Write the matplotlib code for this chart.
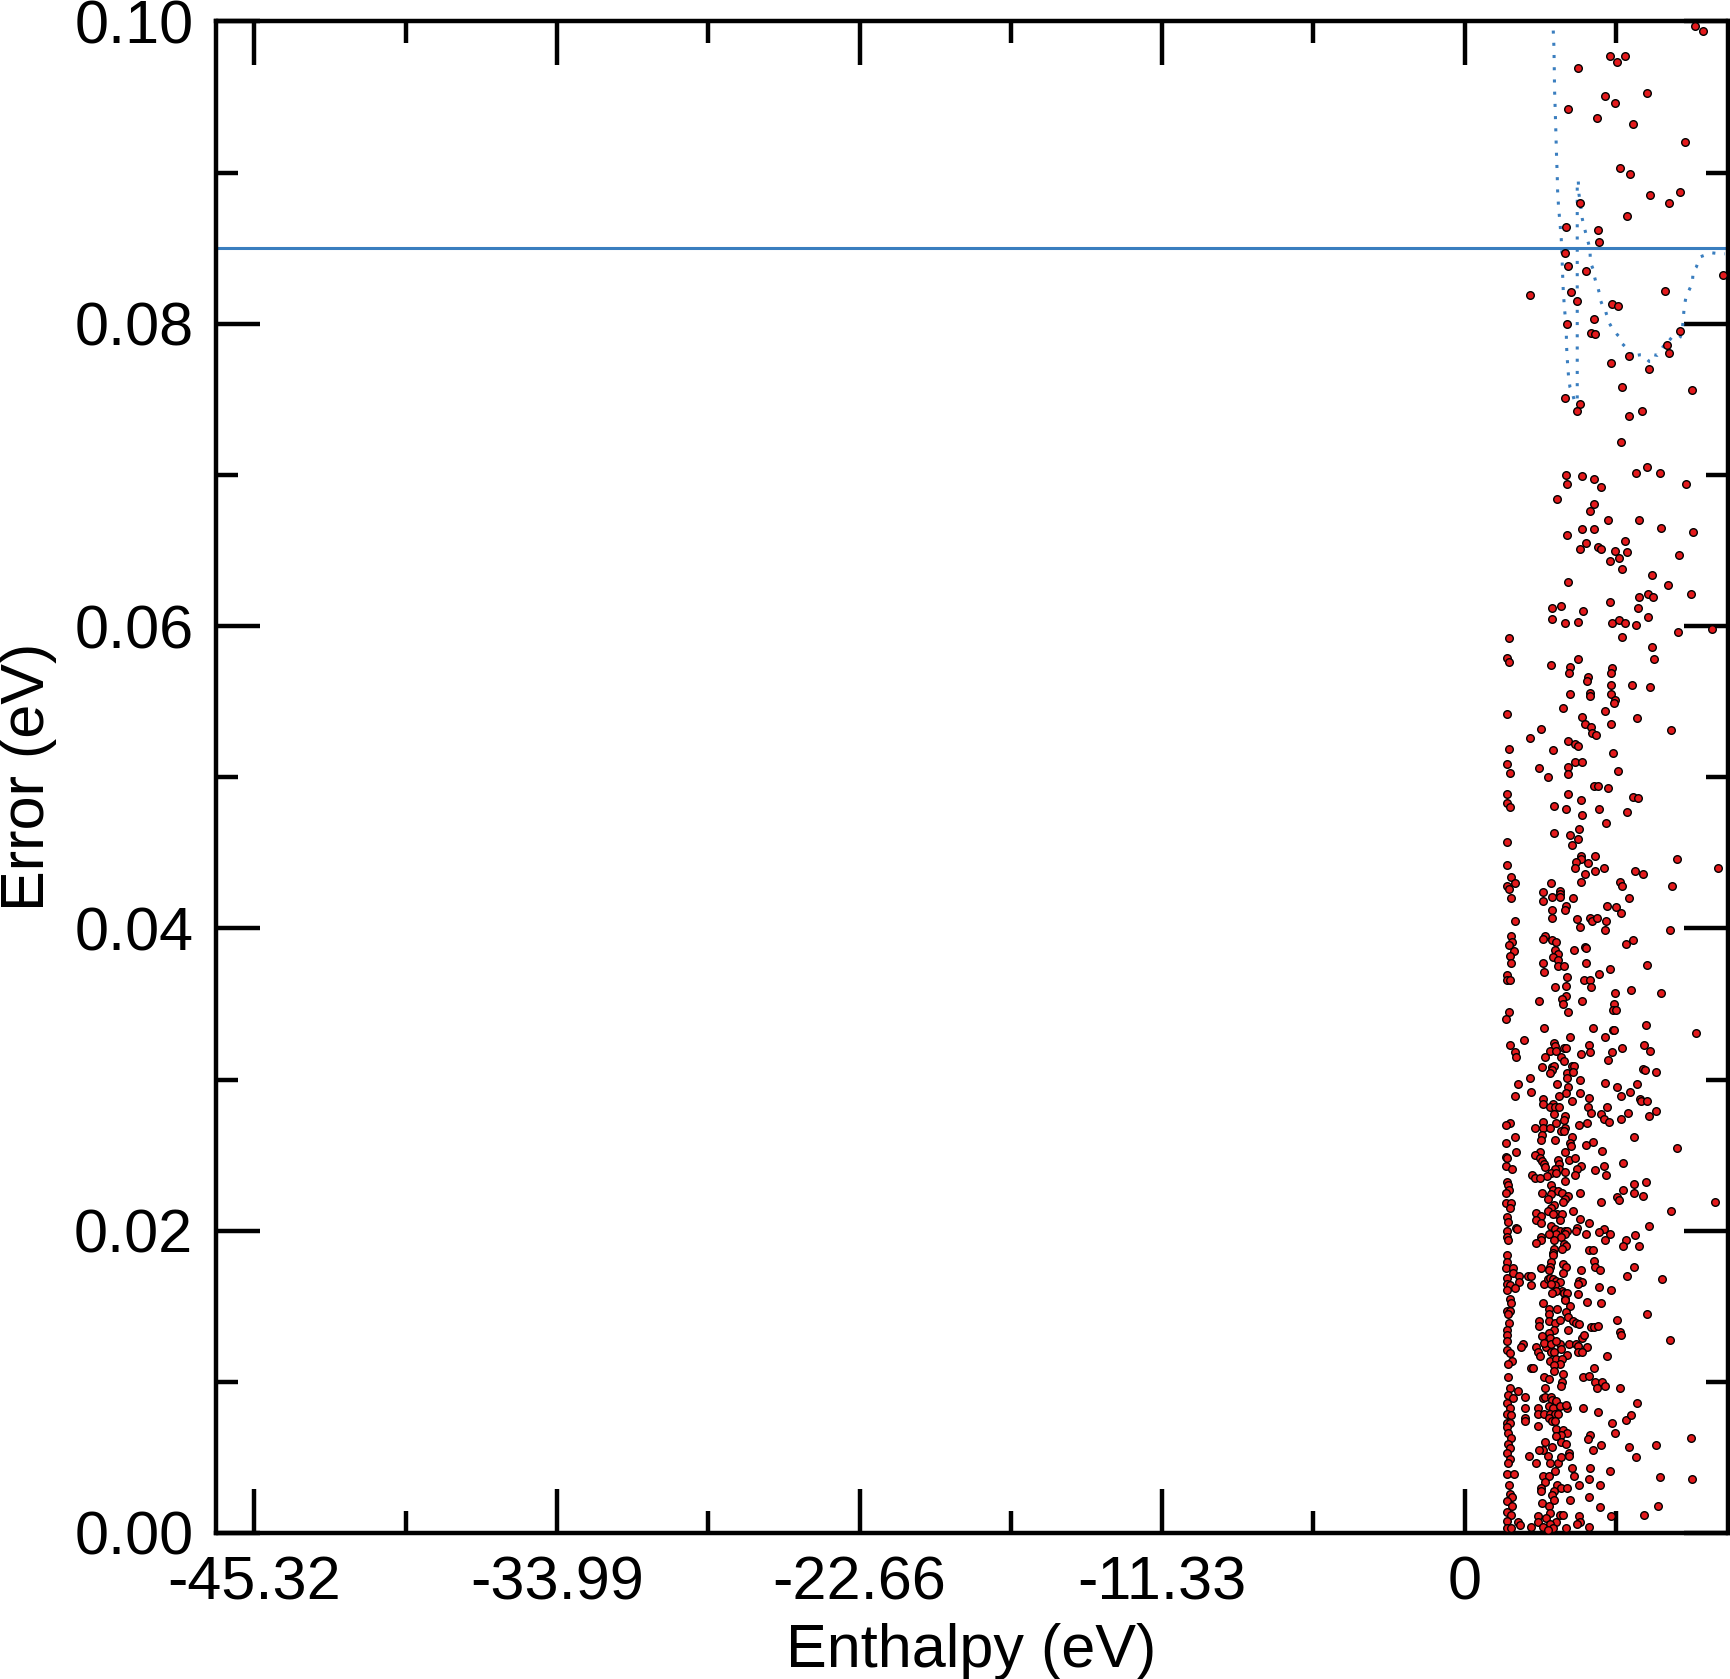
"""Enthalpy vs. fit error scatter, with the error threshold and the running curve.

Values were read off the reference figure (xmgrace style): red points are the
individual structures, the solid blue line is the error threshold and the
dotted blue line is the running error curve.
"""

import matplotlib

matplotlib.use("Agg")
import matplotlib.pyplot as plt
from matplotlib.ticker import FixedFormatter, FixedLocator

plt.rcParams["font.family"] = ["Liberation Sans", "DejaVu Sans"]

RED = "#e41a1c"
BLUE = "#3a7ebf"
FONT_SIZE = 44

THRESHOLD = 0.085

X_TICKS = [-45.32, -33.99, -22.66, -11.33, 0.0]
X_TICK_LABELS = ["-45.32", "-33.99", "-22.66", "-11.33", "0"]
X_MINOR = [-39.655, -28.325, -16.995, -5.665, 5.665]
Y_TICKS = [0.0, 0.02, 0.04, 0.06, 0.08, 0.10]
Y_TICK_LABELS = ["0.00", "0.02", "0.04", "0.06", "0.08", "0.10"]
Y_MINOR = [0.01, 0.03, 0.05, 0.07, 0.09]

# (enthalpy eV, error eV) pairs, split in error bands
points_high = [
    (8.64, 0.0997), (8.94, 0.0994), (5.46, 0.0977), (5.72, 0.0973), (6.02, 0.0977),
    (4.26, 0.0969), (5.27, 0.0951), (5.65, 0.0946), (6.84, 0.0953), (3.89, 0.0942),
    (4.97, 0.0936), (6.32, 0.0932), (8.27, 0.0920), (5.83, 0.0903), (6.21, 0.0899),
    (6.96, 0.0885), (8.08, 0.0887), (7.67, 0.0880), (4.34, 0.0880), (6.09, 0.0871),
    (3.81, 0.0864), (5.01, 0.0862), (5.05, 0.0854), (3.77, 0.0847), (3.88, 0.0838),
    (4.56, 0.0835), (9.69, 0.0832), (2.46, 0.0819), (4.00, 0.0821), (4.22, 0.0815),
    (7.52, 0.0822), (5.53, 0.0813), (5.76, 0.0812), (3.85, 0.0800), (4.86, 0.0803),
    (4.75, 0.0794), (4.90, 0.0793), (8.07, 0.0795), (7.59, 0.0786), (7.67, 0.0781),
    (6.17, 0.0779), (5.50, 0.0774), (6.92, 0.0770), (5.91, 0.0758), (8.53, 0.0756),
    (3.77, 0.0751), (4.34, 0.0747), (4.22, 0.0742), (6.66, 0.0742), (6.17, 0.0739),
    (5.87, 0.0722),
]

points_upper = [
    (6.84, 0.0705), (6.43, 0.0701), (7.33, 0.0701), (3.81, 0.0700), (4.41, 0.0699),
    (3.85, 0.0694), (4.86, 0.0697), (5.12, 0.0692), (8.30, 0.0694), (3.47, 0.0684),
    (4.86, 0.0681), (4.71, 0.0676), (5.38, 0.0670), (6.55, 0.0670), (7.37, 0.0665),
    (8.57, 0.0662), (4.41, 0.0664), (4.86, 0.0664), (3.85, 0.0660), (4.56, 0.0655),
    (4.33, 0.0651), (5.01, 0.0652), (5.12, 0.0651), (6.02, 0.0656), (5.65, 0.0650),
    (6.09, 0.0649), (5.80, 0.0645), (5.46, 0.0643), (8.04, 0.0647), (5.91, 0.0638),
    (7.03, 0.0634), (3.89, 0.0629), (7.63, 0.0627), (8.49, 0.0621), (6.54, 0.0619),
    (6.88, 0.0621), (7.07, 0.0619), (5.46, 0.0616), (3.29, 0.0612), (3.62, 0.0613),
    (4.45, 0.0610), (6.51, 0.0612), (3.29, 0.0605), (3.77, 0.0602), (4.26, 0.0603),
    (5.53, 0.0602), (5.80, 0.0604), (6.02, 0.0602), (6.43, 0.0601), (6.88, 0.0606),
    (5.91, 0.0593), (8.01, 0.0596), (9.28, 0.0598), (1.68, 0.0592), (7.03, 0.0586),
    (1.60, 0.0579), (1.68, 0.0576), (3.25, 0.0574), (4.26, 0.0578), (7.11, 0.0578),
    (3.96, 0.0573), (3.92, 0.0569), (5.53, 0.0572), (5.50, 0.0569), (4.63, 0.0566),
    (4.60, 0.0564), (5.50, 0.0561), (6.28, 0.0561), (6.96, 0.0560), (3.96, 0.0555),
    (4.71, 0.0556), (4.71, 0.0554), (5.50, 0.0555), (5.65, 0.0551), (5.61, 0.0549),
    (3.70, 0.0546), (5.27, 0.0544), (1.60, 0.0542), (4.41, 0.0540), (6.47, 0.0539),
    (4.52, 0.0535), (5.50, 0.0535), (4.75, 0.0533), (2.87, 0.0532), (4.78, 0.0529),
    (4.93, 0.0528), (7.74, 0.0531), (2.46, 0.0526), (3.88, 0.0524), (4.15, 0.0522),
    (4.26, 0.0521), (1.68, 0.0519), (3.32, 0.0518), (5.57, 0.0516), (1.60, 0.0509),
    (1.71, 0.0503), (2.80, 0.0506), (3.88, 0.0507), (4.15, 0.0510), (4.41, 0.0510),
    (3.14, 0.0500), (3.88, 0.0502), (5.76, 0.0504), (1.60, 0.0489), (1.60, 0.0483),
    (1.71, 0.0480), (4.86, 0.0494), (5.01, 0.0494), (5.38, 0.0493), (3.88, 0.0489),
    (4.37, 0.0485), (6.32, 0.0487), (6.51, 0.0486), (3.36, 0.0481), (3.81, 0.0479),
    (5.05, 0.0479), (6.09, 0.0477), (4.41, 0.0475), (5.31, 0.0470), (4.30, 0.0466),
    (3.36, 0.0463), (3.96, 0.0462), (4.26, 0.0459), (4.04, 0.0455), (1.60, 0.0457),
    (1.60, 0.0442), (4.37, 0.0448), (4.90, 0.0448), (4.37, 0.0446), (4.18, 0.0444),
    (4.63, 0.0443), (4.15, 0.0440), (5.23, 0.0440), (7.97, 0.0446), (9.50, 0.0440),
    (1.75, 0.0434), (1.90, 0.0430), (4.52, 0.0436), (4.90, 0.0438), (6.39, 0.0438),
    (6.69, 0.0436), (4.37, 0.0431), (1.60, 0.0428), (1.68, 0.0426), (3.25, 0.0430),
    (5.83, 0.0431), (5.91, 0.0428), (7.78, 0.0428), (1.75, 0.0420), (2.95, 0.0424),
    (3.59, 0.0425), (3.59, 0.0423), (3.59, 0.0421), (3.29, 0.0421), (4.07, 0.0420),
    (6.17, 0.0420),
]

points_middle = [
    (2.95, 0.0418), (3.81, 0.0415), (3.77, 0.0412), (3.29, 0.0412), (3.29, 0.0407),
    (5.35, 0.0415), (5.68, 0.0414), (5.87, 0.0410), (1.90, 0.0405), (4.22, 0.0406),
    (4.71, 0.0407), (4.78, 0.0405), (4.97, 0.0407), (5.31, 0.0405), (4.33, 0.0401),
    (5.27, 0.0399), (7.71, 0.0399), (1.75, 0.0395), (1.79, 0.0391), (1.68, 0.0389),
    (1.86, 0.0385), (1.71, 0.0382), (1.75, 0.0377), (3.02, 0.0395), (2.95, 0.0393),
    (3.29, 0.0392), (3.44, 0.0391), (6.32, 0.0392), (6.06, 0.0390), (3.40, 0.0386),
    (3.51, 0.0383), (3.32, 0.0381), (3.51, 0.0379), (4.11, 0.0386), (4.52, 0.0388),
    (4.56, 0.0387), (2.95, 0.0377), (3.51, 0.0375), (3.74, 0.0375), (4.56, 0.0377),
    (6.84, 0.0376), (2.99, 0.0371), (5.05, 0.0370), (5.46, 0.0373), (1.60, 0.0369),
    (1.60, 0.0366), (1.71, 0.0366), (3.85, 0.0368), (4.48, 0.0366), (4.71, 0.0366),
    (3.81, 0.0362), (3.40, 0.0361), (4.75, 0.0361), (5.65, 0.0357), (6.24, 0.0359),
    (7.37, 0.0357), (3.81, 0.0355), (3.66, 0.0353), (3.70, 0.0350), (4.41, 0.0352),
    (2.80, 0.0352), (5.61, 0.0350), (5.57, 0.0346), (5.68, 0.0346), (3.88, 0.0345),
    (1.68, 0.0345), (1.56, 0.0340), (2.99, 0.0334), (4.82, 0.0334), (5.57, 0.0333),
    (5.61, 0.0333), (6.81, 0.0336), (8.68, 0.0331), (2.24, 0.0326), (3.96, 0.0328),
    (5.27, 0.0328), (1.71, 0.0323), (1.90, 0.0318), (1.94, 0.0315), (3.36, 0.0324),
    (3.40, 0.0322), (3.74, 0.0321), (3.81, 0.0321), (3.21, 0.0319), (3.44, 0.0319),
    (3.02, 0.0315), (3.62, 0.0315), (4.67, 0.0323), (4.71, 0.0318), (4.37, 0.0317),
    (5.53, 0.0318), (5.91, 0.0321), (6.73, 0.0323), (6.96, 0.0319), (5.38, 0.0313),
    (3.74, 0.0312), (4.04, 0.0309), (4.11, 0.0309), (2.91, 0.0308), (3.29, 0.0308),
    (3.36, 0.0309), (3.29, 0.0306), (3.21, 0.0304), (3.85, 0.0304), (3.85, 0.0301),
    (4.07, 0.0305), (6.69, 0.0307), (6.77, 0.0306), (7.18, 0.0305), (2.46, 0.0301),
    (4.33, 0.0300), (2.01, 0.0297), (3.47, 0.0297), (3.88, 0.0295), (5.27, 0.0298),
    (6.47, 0.0297), (5.72, 0.0295), (2.50, 0.0292), (3.81, 0.0291), (4.33, 0.0291),
    (6.21, 0.0292), (1.90, 0.0289), (3.55, 0.0289), (4.67, 0.0288), (5.87, 0.0289),
    (6.58, 0.0287), (6.62, 0.0286), (6.84, 0.0286), (2.95, 0.0287), (2.95, 0.0284),
    (4.04, 0.0286), (3.32, 0.0284), (3.21, 0.0282), (3.40, 0.0282), (3.55, 0.0282),
    (4.63, 0.0282), (5.35, 0.0282), (3.36, 0.0277), (4.75, 0.0278), (5.12, 0.0277),
    (6.13, 0.0278), (7.18, 0.0279), (3.77, 0.0276), (3.74, 0.0273), (5.23, 0.0274),
    (5.42, 0.0272), (5.87, 0.0274), (6.92, 0.0276), (1.71, 0.0271), (1.56, 0.0270),
    (2.95, 0.0272), (3.44, 0.0271), (4.30, 0.0270), (4.60, 0.0271), (2.65, 0.0268),
    (2.95, 0.0268), (3.21, 0.0268), (3.77, 0.0268), (3.62, 0.0266), (3.74, 0.0266),
    (2.91, 0.0263), (1.90, 0.0262), (4.04, 0.0262), (6.36, 0.0262), (3.40, 0.0260),
    (2.87, 0.0260), (4.82, 0.0259), (3.96, 0.0258), (4.56, 0.0257), (1.56, 0.0258),
    (4.00, 0.0256), (7.97, 0.0255), (1.94, 0.0252), (2.84, 0.0252), (3.77, 0.0252),
    (5.16, 0.0253), (2.65, 0.0250), (1.56, 0.0249), (1.60, 0.0248), (2.84, 0.0248),
    (2.91, 0.0246), (3.51, 0.0247), (3.92, 0.0247), (4.15, 0.0248), (1.56, 0.0243),
    (1.79, 0.0241), (2.99, 0.0244), (3.02, 0.0242), (3.55, 0.0244), (3.55, 0.0241),
    (3.40, 0.0241), (4.37, 0.0243), (4.22, 0.0241), (5.23, 0.0243), (5.94, 0.0245),
    (3.25, 0.0238), (3.44, 0.0238), (3.10, 0.0236), (3.77, 0.0239), (4.90, 0.0240),
    (5.31, 0.0237), (4.15, 0.0237), (2.54, 0.0237), (2.65, 0.0235), (2.84, 0.0235),
    (3.77, 0.0233), (1.60, 0.0232), (1.64, 0.0230), (3.25, 0.0230), (3.32, 0.0227),
    (1.68, 0.0227), (1.56, 0.0225), (2.91, 0.0225), (3.51, 0.0226), (3.66, 0.0225),
    (4.33, 0.0225), (6.36, 0.0231), (6.81, 0.0232), (5.94, 0.0227), (6.36, 0.0225),
    (6.69, 0.0223), (3.25, 0.0224), (3.88, 0.0223), (3.77, 0.0221), (3.70, 0.0219),
    (5.72, 0.0222), (5.80, 0.0220), (5.12, 0.0219), (9.39, 0.0219), (1.56, 0.0218),
    (1.75, 0.0218), (1.71, 0.0215), (3.14, 0.0221), (3.36, 0.0217), (3.25, 0.0215),
    (3.14, 0.0213), (3.47, 0.0211), (3.32, 0.0211), (3.66, 0.0211), (4.07, 0.0213),
    (7.74, 0.0213), (2.69, 0.0212), (2.87, 0.0210), (1.60, 0.0209), (1.64, 0.0206),
    (2.69, 0.0207), (2.87, 0.0205), (3.25, 0.0203), (3.59, 0.0207), (4.33, 0.0208),
    (4.67, 0.0205), (6.92, 0.0203), (1.94, 0.0202), (1.98, 0.0201), (1.60, 0.0200),
    (1.60, 0.0196), (1.64, 0.0194), (3.40, 0.0201), (3.59, 0.0200), (3.77, 0.0200),
    (3.85, 0.0200), (3.77, 0.0198), (3.44, 0.0198), (3.17, 0.0198), (3.62, 0.0196),
    (4.22, 0.0202), (4.18, 0.0200), (5.23, 0.0201), (5.05, 0.0199), (5.46, 0.0198),
    (4.56, 0.0198), (6.39, 0.0197), (6.06, 0.0194), (5.27, 0.0194), (5.94, 0.0190),
    (6.54, 0.0190), (2.87, 0.0196), (2.87, 0.0194), (2.69, 0.0192), (3.36, 0.0194),
    (3.74, 0.0191), (3.81, 0.0190), (3.66, 0.0188), (3.36, 0.0188), (3.32, 0.0185),
    (3.32, 0.0184), (4.67, 0.0187), (4.82, 0.0187), (1.60, 0.0184), (1.60, 0.0179),
    (1.56, 0.0175), (1.82, 0.0175), (1.82, 0.0172), (2.05, 0.0170), (2.05, 0.0166),
    (1.60, 0.0169), (1.60, 0.0165), (1.71, 0.0164), (1.60, 0.0161), (1.90, 0.0162),
    (3.25, 0.0179), (3.21, 0.0176), (3.70, 0.0178), (3.81, 0.0176), (3.70, 0.0172),
    (2.87, 0.0175), (3.17, 0.0174), (4.86, 0.0180), (4.90, 0.0176), (5.08, 0.0174),
    (4.37, 0.0174), (6.36, 0.0176), (6.09, 0.0170), (7.41, 0.0168), (2.39, 0.0170),
    (2.50, 0.0170), (2.50, 0.0164), (2.99, 0.0165), (3.14, 0.0168), (3.21, 0.0169),
    (3.32, 0.0168), (3.44, 0.0167), (3.59, 0.0166), (3.40, 0.0164), (3.25, 0.0165),
    (4.30, 0.0167), (4.41, 0.0166), (4.26, 0.0165), (5.05, 0.0163), (5.50, 0.0161),
    (3.66, 0.0160), (3.74, 0.0159), (3.85, 0.0159), (3.44, 0.0160), (3.29, 0.0159),
    (4.26, 0.0158), (1.71, 0.0155), (3.77, 0.0155),
]

points_low = [
    (1.75, 0.0152), (1.60, 0.0147), (1.71, 0.0147), (1.64, 0.0145), (1.68, 0.0139),
    (1.60, 0.0134), (1.60, 0.0131), (1.60, 0.0127), (1.60, 0.0121), (1.71, 0.0119),
    (1.79, 0.0114), (1.64, 0.0112), (2.95, 0.0152), (3.17, 0.0148), (3.47, 0.0148),
    (3.77, 0.0154), (3.96, 0.0150), (3.81, 0.0146), (3.88, 0.0143), (3.17, 0.0145),
    (2.80, 0.0140), (2.80, 0.0137), (3.17, 0.0140), (3.40, 0.0139), (3.59, 0.0141),
    (4.07, 0.0140), (4.18, 0.0139), (4.30, 0.0138), (4.60, 0.0153), (5.12, 0.0152),
    (4.75, 0.0136), (4.86, 0.0136), (5.01, 0.0137), (5.72, 0.0141), (5.83, 0.0133),
    (5.87, 0.0131), (6.84, 0.0145), (7.71, 0.0128), (3.36, 0.0134), (3.17, 0.0132),
    (3.21, 0.0129), (2.91, 0.0130), (3.88, 0.0134), (4.41, 0.0129), (4.48, 0.0131),
    (2.20, 0.0125), (2.12, 0.0123), (2.69, 0.0123), (2.76, 0.0120), (3.06, 0.0123),
    (2.99, 0.0126), (3.25, 0.0125), (3.59, 0.0125), (3.44, 0.0127), (3.92, 0.0125),
    (4.18, 0.0125), (4.26, 0.0124), (4.60, 0.0123), (3.62, 0.0122), (3.25, 0.0120),
    (3.36, 0.0120), (3.85, 0.0118), (4.26, 0.0120), (4.41, 0.0120), (5.35, 0.0117),
    (2.84, 0.0117), (3.21, 0.0114), (3.44, 0.0115), (3.66, 0.0115), (3.59, 0.0112),
    (3.36, 0.0111), (2.50, 0.0109), (2.57, 0.0109), (4.86, 0.0109), (3.36, 0.0107),
    (3.70, 0.0105), (2.99, 0.0103), (3.17, 0.0102), (3.66, 0.0100), (3.62, 0.0097),
    (4.45, 0.0103), (4.67, 0.0104), (4.90, 0.0100), (5.16, 0.0100), (5.27, 0.0097),
    (4.97, 0.0096), (5.83, 0.0096), (3.02, 0.0096), (1.64, 0.0103), (1.71, 0.0096),
    (2.01, 0.0094), (2.27, 0.0090), (1.64, 0.0091), (1.82, 0.0089), (1.60, 0.0086),
    (1.71, 0.0083), (1.60, 0.0079), (1.75, 0.0078), (1.60, 0.0073), (1.71, 0.0073),
    (1.60, 0.0070), (1.64, 0.0066), (1.75, 0.0063), (1.64, 0.0059), (1.71, 0.0056),
    (1.60, 0.0053), (1.71, 0.0049), (1.64, 0.0046), (1.60, 0.0039), (1.86, 0.0039),
    (1.68, 0.0032), (1.71, 0.0026), (1.79, 0.0024), (1.60, 0.0021), (1.79, 0.0018),
    (1.60, 0.0014), (1.75, 0.0012), (1.60, 0.0008), (2.01, 0.0007), (2.09, 0.0005),
    (1.60, 0.0003), (1.75, 0.0003), (2.27, 0.0083), (2.27, 0.0076), (2.27, 0.0074),
    (2.76, 0.0083), (2.76, 0.0079), (2.95, 0.0089), (3.02, 0.0090), (3.25, 0.0090),
    (3.29, 0.0088), (3.44, 0.0087), (3.17, 0.0084), (3.32, 0.0083), (3.59, 0.0084),
    (3.85, 0.0083), (3.81, 0.0085), (2.99, 0.0079), (3.21, 0.0079), (3.40, 0.0079),
    (3.51, 0.0079), (3.17, 0.0076), (3.29, 0.0074), (3.40, 0.0074), (4.45, 0.0083),
    (5.01, 0.0080), (2.76, 0.0071), (3.44, 0.0069), (3.70, 0.0068), (3.85, 0.0066),
    (3.62, 0.0065), (3.44, 0.0064), (3.62, 0.0060), (3.81, 0.0059), (3.29, 0.0057),
    (3.02, 0.0060), (2.95, 0.0055), (2.80, 0.0055), (3.14, 0.0051), (3.21, 0.0046),
    (3.51, 0.0046), (3.62, 0.0050), (3.92, 0.0053), (3.92, 0.0051), (2.42, 0.0051),
    (2.69, 0.0046), (4.71, 0.0065), (4.63, 0.0062), (5.12, 0.0058), (4.82, 0.0055),
    (5.53, 0.0073), (5.65, 0.0066), (6.06, 0.0075), (6.24, 0.0078), (6.47, 0.0086),
    (6.17, 0.0057), (6.43, 0.0050), (7.18, 0.0058), (8.49, 0.0063), (8.53, 0.0036),
    (7.33, 0.0037), (7.25, 0.0018), (6.73, 0.0012), (5.46, 0.0041), (5.08, 0.0032),
    (5.08, 0.0017), (5.50, 0.0011), (4.67, 0.0036), (4.71, 0.0043), (4.04, 0.0043),
    (4.11, 0.0038), (4.30, 0.0032), (4.67, 0.0024), (3.96, 0.0022), (4.67, 0.0004),
    (3.81, 0.0003), (4.30, 0.0011), (4.33, 0.0007), (4.22, 0.0006), (2.95, 0.0038),
    (3.17, 0.0038), (3.40, 0.0041), (3.02, 0.0034), (3.47, 0.0032), (3.62, 0.0030),
    (3.85, 0.0030), (2.87, 0.0030), (2.87, 0.0028), (3.36, 0.0028), (3.29, 0.0025),
    (3.36, 0.0022), (2.91, 0.0020), (3.17, 0.0018), (3.21, 0.0013), (2.76, 0.0011),
    (3.06, 0.0010), (3.59, 0.0012), (3.70, 0.0012), (3.44, 0.0007), (3.21, 0.0006),
    (2.76, 0.0007), (2.95, 0.0004), (2.50, 0.0004), (3.32, 0.0003), (3.14, 0.0002),
]

# running error curve (dotted): steep descent, jump back up, then the bowl
curve_enthalpy = [
    3.324, 3.349, 3.361, 3.373, 3.398, 3.423, 3.448, 3.473, 3.486, 3.523,
    3.573, 3.623, 3.648, 3.673, 3.698, 3.736, 3.773, 3.810, 3.823, 3.860,
    3.898, 3.948, 4.048, 4.110, 4.173, 4.222, 4.222, 4.260, 4.285, 4.322,
    4.372, 4.410, 4.460, 4.522, 4.572, 4.647, 4.697, 4.709, 4.747, 4.822,
    4.859, 4.934, 5.009, 5.046, 5.084, 5.159, 5.271, 5.309, 5.384, 5.421,
    5.508, 5.571, 5.658, 5.721, 5.833, 5.908, 6.033, 6.145, 6.257, 6.395,
    6.445, 6.582, 6.694, 6.807, 6.919, 7.031, 7.106, 7.219, 7.294, 7.443,
    7.568, 7.668, 7.781, 8.005, 8.080, 8.155, 8.193, 8.230, 8.305, 8.417,
    8.530, 8.567, 8.680, 8.829, 9.241, 9.578, 9.754,
]
curve_error = [
    0.09940, 0.09830, 0.09698, 0.09544, 0.09411, 0.09257, 0.09103, 0.08981, 0.08882, 0.08772,
    0.08673, 0.08563, 0.08463, 0.08331, 0.08221, 0.08122, 0.08044, 0.07956, 0.07846, 0.07736,
    0.07648, 0.07582, 0.07537, 0.07493, 0.07449, 0.07394, 0.08948, 0.08948, 0.08860, 0.08816,
    0.08750, 0.08695, 0.08657, 0.08613, 0.08578, 0.08530, 0.08496, 0.08441, 0.08393, 0.08358,
    0.08318, 0.08265, 0.08230, 0.08205, 0.08159, 0.08126, 0.08100, 0.08067, 0.08034, 0.08005,
    0.07978, 0.07967, 0.07945, 0.07928, 0.07908, 0.07868, 0.07846, 0.07820, 0.07802, 0.07769,
    0.07791, 0.07795, 0.07795, 0.07769, 0.07751, 0.07751, 0.07795, 0.07791, 0.07806, 0.07850,
    0.07868, 0.07906, 0.07890, 0.07895, 0.07912, 0.07956, 0.08033, 0.08115, 0.08186, 0.08225,
    0.08269, 0.08351, 0.08375, 0.08443, 0.08470, 0.08463, 0.08463,
]


def main() -> None:
    points = points_high + points_upper + points_middle + points_low
    enthalpy = [p[0] for p in points]
    error = [p[1] for p in points]

    fig = plt.figure(figsize=(17.3, 16.79), dpi=100)
    ax = fig.add_axes([0.12457, 0.08696, 0.87399, 0.90024])

    ax.axhline(THRESHOLD, color=BLUE, linewidth=2.2, zorder=2)
    ax.plot(curve_enthalpy, curve_error, color=BLUE, linewidth=2.2,
            linestyle=(0, (1, 3)), dash_capstyle="butt", zorder=2)
    ax.scatter(enthalpy, error, s=30, c=RED, edgecolors="black",
               linewidths=1.0, zorder=3)

    ax.set_xlim(-46.78, 9.85)
    ax.set_ylim(0.0, 0.10)

    ax.xaxis.set_major_locator(FixedLocator(X_TICKS))
    ax.xaxis.set_major_formatter(FixedFormatter(X_TICK_LABELS))
    ax.xaxis.set_minor_locator(FixedLocator(X_MINOR))
    ax.yaxis.set_major_locator(FixedLocator(Y_TICKS))
    ax.yaxis.set_major_formatter(FixedFormatter(Y_TICK_LABELS))
    ax.yaxis.set_minor_locator(FixedLocator(Y_MINOR))

    ax.tick_params(which="both", direction="in", top=True, right=True,
                   width=3.2, labelsize=FONT_SIZE, pad=16)
    ax.tick_params(which="major", length=31.7)
    ax.tick_params(which="minor", length=15.8)
    for spine in ax.spines.values():
        spine.set_linewidth(3.2)

    ax.set_xlabel("Enthalpy (eV)", fontsize=FONT_SIZE, labelpad=8)
    ax.set_ylabel("Error (eV)", fontsize=FONT_SIZE, labelpad=12)

    fig.savefig("out.png", dpi=100)
    plt.close(fig)


if __name__ == "__main__":
    main()
